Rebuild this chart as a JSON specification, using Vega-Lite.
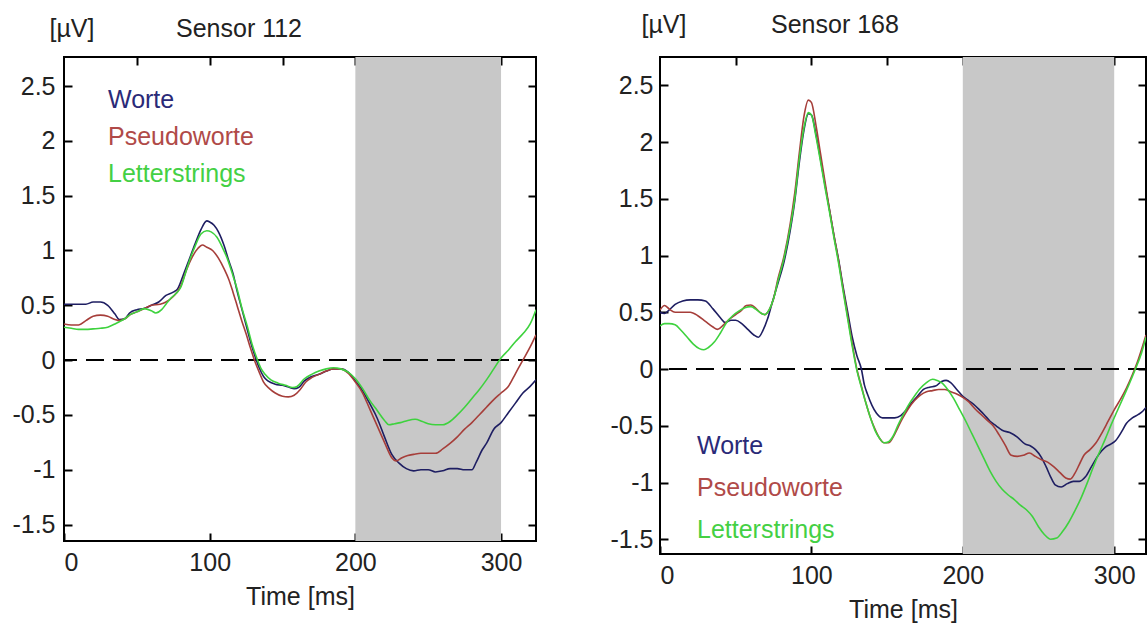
{
"$schema": "https://vega.github.io/schema/vega-lite/v6.json",
"background": "white",
"padding": {"left": 10, "top": 11, "right": 0, "bottom": 0},
"datasets": {
"s112": [
{"c":"Worte","t":0,"v":0.51},{"c":"Worte","t":5,"v":0.51},{"c":"Worte","t":10,"v":0.51},{"c":"Worte","t":15,"v":0.51},{"c":"Worte","t":20,"v":0.53},{"c":"Worte","t":25,"v":0.53},{"c":"Worte","t":30,"v":0.5},{"c":"Worte","t":35,"v":0.42},{"c":"Worte","t":38,"v":0.37},{"c":"Worte","t":42,"v":0.38},{"c":"Worte","t":45,"v":0.43},{"c":"Worte","t":50,"v":0.46},{"c":"Worte","t":55,"v":0.47},{"c":"Worte","t":60,"v":0.5},{"c":"Worte","t":65,"v":0.53},{"c":"Worte","t":70,"v":0.59},{"c":"Worte","t":75,"v":0.62},{"c":"Worte","t":78,"v":0.65},{"c":"Worte","t":82,"v":0.78},{"c":"Worte","t":86,"v":0.92},{"c":"Worte","t":90,"v":1.06},{"c":"Worte","t":94,"v":1.19},{"c":"Worte","t":98,"v":1.27},{"c":"Worte","t":100,"v":1.26},{"c":"Worte","t":103,"v":1.23},{"c":"Worte","t":106,"v":1.17},{"c":"Worte","t":110,"v":1.04},{"c":"Worte","t":113,"v":0.91},{"c":"Worte","t":116,"v":0.79},{"c":"Worte","t":119,"v":0.62},{"c":"Worte","t":122,"v":0.47},{"c":"Worte","t":125,"v":0.32},{"c":"Worte","t":128,"v":0.17},{"c":"Worte","t":131,"v":0.04},{"c":"Worte","t":134,"v":-0.07},{"c":"Worte","t":137,"v":-0.15},{"c":"Worte","t":140,"v":-0.19},{"c":"Worte","t":145,"v":-0.22},{"c":"Worte","t":150,"v":-0.23},{"c":"Worte","t":155,"v":-0.25},{"c":"Worte","t":158,"v":-0.26},{"c":"Worte","t":161,"v":-0.25},{"c":"Worte","t":165,"v":-0.19},{"c":"Worte","t":170,"v":-0.15},{"c":"Worte","t":175,"v":-0.13},{"c":"Worte","t":180,"v":-0.1},{"c":"Worte","t":185,"v":-0.08},{"c":"Worte","t":190,"v":-0.08},{"c":"Worte","t":195,"v":-0.11},{"c":"Worte","t":200,"v":-0.19},{"c":"Worte","t":205,"v":-0.28},{"c":"Worte","t":210,"v":-0.4},{"c":"Worte","t":215,"v":-0.53},{"c":"Worte","t":220,"v":-0.7},{"c":"Worte","t":225,"v":-0.86},{"c":"Worte","t":230,"v":-0.94},{"c":"Worte","t":235,"v":-0.99},{"c":"Worte","t":240,"v":-1.01},{"c":"Worte","t":245,"v":-1.0},{"c":"Worte","t":250,"v":-1.0},{"c":"Worte","t":255,"v":-1.02},{"c":"Worte","t":260,"v":-1.01},{"c":"Worte","t":265,"v":-0.99},{"c":"Worte","t":270,"v":-0.99},{"c":"Worte","t":275,"v":-1.0},{"c":"Worte","t":280,"v":-1.0},{"c":"Worte","t":283,"v":-0.93},{"c":"Worte","t":287,"v":-0.82},{"c":"Worte","t":290,"v":-0.76},{"c":"Worte","t":295,"v":-0.63},{"c":"Worte","t":300,"v":-0.57},{"c":"Worte","t":305,"v":-0.48},{"c":"Worte","t":310,"v":-0.39},{"c":"Worte","t":315,"v":-0.3},{"c":"Worte","t":320,"v":-0.24},{"c":"Worte","t":324,"v":-0.18},
{"c":"Pseudoworte","t":0,"v":0.33},{"c":"Pseudoworte","t":5,"v":0.32},{"c":"Pseudoworte","t":10,"v":0.32},{"c":"Pseudoworte","t":15,"v":0.36},{"c":"Pseudoworte","t":20,"v":0.4},{"c":"Pseudoworte","t":25,"v":0.41},{"c":"Pseudoworte","t":30,"v":0.4},{"c":"Pseudoworte","t":35,"v":0.37},{"c":"Pseudoworte","t":38,"v":0.36},{"c":"Pseudoworte","t":42,"v":0.38},{"c":"Pseudoworte","t":46,"v":0.42},{"c":"Pseudoworte","t":50,"v":0.44},{"c":"Pseudoworte","t":55,"v":0.47},{"c":"Pseudoworte","t":60,"v":0.5},{"c":"Pseudoworte","t":66,"v":0.51},{"c":"Pseudoworte","t":70,"v":0.53},{"c":"Pseudoworte","t":75,"v":0.58},{"c":"Pseudoworte","t":80,"v":0.67},{"c":"Pseudoworte","t":84,"v":0.82},{"c":"Pseudoworte","t":88,"v":0.94},{"c":"Pseudoworte","t":92,"v":1.02},{"c":"Pseudoworte","t":95,"v":1.05},{"c":"Pseudoworte","t":98,"v":1.03},{"c":"Pseudoworte","t":102,"v":1.0},{"c":"Pseudoworte","t":106,"v":0.93},{"c":"Pseudoworte","t":110,"v":0.83},{"c":"Pseudoworte","t":113,"v":0.74},{"c":"Pseudoworte","t":116,"v":0.62},{"c":"Pseudoworte","t":119,"v":0.49},{"c":"Pseudoworte","t":122,"v":0.36},{"c":"Pseudoworte","t":125,"v":0.24},{"c":"Pseudoworte","t":128,"v":0.11},{"c":"Pseudoworte","t":131,"v":-0.01},{"c":"Pseudoworte","t":134,"v":-0.11},{"c":"Pseudoworte","t":137,"v":-0.2},{"c":"Pseudoworte","t":141,"v":-0.26},{"c":"Pseudoworte","t":145,"v":-0.3},{"c":"Pseudoworte","t":150,"v":-0.33},{"c":"Pseudoworte","t":154,"v":-0.335},{"c":"Pseudoworte","t":158,"v":-0.32},{"c":"Pseudoworte","t":162,"v":-0.27},{"c":"Pseudoworte","t":166,"v":-0.2},{"c":"Pseudoworte","t":170,"v":-0.16},{"c":"Pseudoworte","t":175,"v":-0.13},{"c":"Pseudoworte","t":180,"v":-0.1},{"c":"Pseudoworte","t":185,"v":-0.08},{"c":"Pseudoworte","t":190,"v":-0.08},{"c":"Pseudoworte","t":195,"v":-0.12},{"c":"Pseudoworte","t":200,"v":-0.2},{"c":"Pseudoworte","t":205,"v":-0.3},{"c":"Pseudoworte","t":210,"v":-0.45},{"c":"Pseudoworte","t":215,"v":-0.6},{"c":"Pseudoworte","t":220,"v":-0.75},{"c":"Pseudoworte","t":225,"v":-0.89},{"c":"Pseudoworte","t":228,"v":-0.92},{"c":"Pseudoworte","t":232,"v":-0.89},{"c":"Pseudoworte","t":236,"v":-0.87},{"c":"Pseudoworte","t":240,"v":-0.86},{"c":"Pseudoworte","t":245,"v":-0.85},{"c":"Pseudoworte","t":250,"v":-0.85},{"c":"Pseudoworte","t":255,"v":-0.85},{"c":"Pseudoworte","t":260,"v":-0.81},{"c":"Pseudoworte","t":265,"v":-0.76},{"c":"Pseudoworte","t":270,"v":-0.7},{"c":"Pseudoworte","t":275,"v":-0.63},{"c":"Pseudoworte","t":280,"v":-0.57},{"c":"Pseudoworte","t":285,"v":-0.5},{"c":"Pseudoworte","t":290,"v":-0.43},{"c":"Pseudoworte","t":295,"v":-0.36},{"c":"Pseudoworte","t":300,"v":-0.3},{"c":"Pseudoworte","t":305,"v":-0.24},{"c":"Pseudoworte","t":310,"v":-0.12},{"c":"Pseudoworte","t":315,"v":0.0},{"c":"Pseudoworte","t":320,"v":0.12},{"c":"Pseudoworte","t":324,"v":0.23},
{"c":"Letterstrings","t":0,"v":0.3},{"c":"Letterstrings","t":5,"v":0.29},{"c":"Letterstrings","t":10,"v":0.28},{"c":"Letterstrings","t":15,"v":0.28},{"c":"Letterstrings","t":20,"v":0.285},{"c":"Letterstrings","t":25,"v":0.29},{"c":"Letterstrings","t":30,"v":0.3},{"c":"Letterstrings","t":35,"v":0.33},{"c":"Letterstrings","t":38,"v":0.35},{"c":"Letterstrings","t":42,"v":0.38},{"c":"Letterstrings","t":46,"v":0.42},{"c":"Letterstrings","t":50,"v":0.44},{"c":"Letterstrings","t":55,"v":0.47},{"c":"Letterstrings","t":60,"v":0.45},{"c":"Letterstrings","t":63,"v":0.43},{"c":"Letterstrings","t":67,"v":0.46},{"c":"Letterstrings","t":70,"v":0.51},{"c":"Letterstrings","t":73,"v":0.56},{"c":"Letterstrings","t":77,"v":0.61},{"c":"Letterstrings","t":80,"v":0.66},{"c":"Letterstrings","t":84,"v":0.82},{"c":"Letterstrings","t":87,"v":0.94},{"c":"Letterstrings","t":90,"v":1.04},{"c":"Letterstrings","t":94,"v":1.15},{"c":"Letterstrings","t":98,"v":1.18},{"c":"Letterstrings","t":101,"v":1.17},{"c":"Letterstrings","t":105,"v":1.12},{"c":"Letterstrings","t":109,"v":1.02},{"c":"Letterstrings","t":112,"v":0.93},{"c":"Letterstrings","t":116,"v":0.77},{"c":"Letterstrings","t":119,"v":0.64},{"c":"Letterstrings","t":122,"v":0.48},{"c":"Letterstrings","t":126,"v":0.3},{"c":"Letterstrings","t":129,"v":0.15},{"c":"Letterstrings","t":132,"v":0.03},{"c":"Letterstrings","t":135,"v":-0.07},{"c":"Letterstrings","t":138,"v":-0.13},{"c":"Letterstrings","t":142,"v":-0.18},{"c":"Letterstrings","t":147,"v":-0.21},{"c":"Letterstrings","t":152,"v":-0.23},{"c":"Letterstrings","t":157,"v":-0.25},{"c":"Letterstrings","t":160,"v":-0.24},{"c":"Letterstrings","t":165,"v":-0.17},{"c":"Letterstrings","t":170,"v":-0.13},{"c":"Letterstrings","t":175,"v":-0.1},{"c":"Letterstrings","t":180,"v":-0.08},{"c":"Letterstrings","t":185,"v":-0.07},{"c":"Letterstrings","t":190,"v":-0.08},{"c":"Letterstrings","t":195,"v":-0.11},{"c":"Letterstrings","t":200,"v":-0.17},{"c":"Letterstrings","t":205,"v":-0.26},{"c":"Letterstrings","t":210,"v":-0.37},{"c":"Letterstrings","t":215,"v":-0.46},{"c":"Letterstrings","t":220,"v":-0.55},{"c":"Letterstrings","t":223,"v":-0.59},{"c":"Letterstrings","t":227,"v":-0.58},{"c":"Letterstrings","t":231,"v":-0.57},{"c":"Letterstrings","t":236,"v":-0.55},{"c":"Letterstrings","t":241,"v":-0.54},{"c":"Letterstrings","t":246,"v":-0.56},{"c":"Letterstrings","t":250,"v":-0.58},{"c":"Letterstrings","t":255,"v":-0.59},{"c":"Letterstrings","t":260,"v":-0.59},{"c":"Letterstrings","t":265,"v":-0.56},{"c":"Letterstrings","t":270,"v":-0.5},{"c":"Letterstrings","t":275,"v":-0.43},{"c":"Letterstrings","t":280,"v":-0.35},{"c":"Letterstrings","t":285,"v":-0.27},{"c":"Letterstrings","t":290,"v":-0.18},{"c":"Letterstrings","t":295,"v":-0.08},{"c":"Letterstrings","t":300,"v":0.02},{"c":"Letterstrings","t":305,"v":0.09},{"c":"Letterstrings","t":310,"v":0.17},{"c":"Letterstrings","t":315,"v":0.24},{"c":"Letterstrings","t":320,"v":0.33},{"c":"Letterstrings","t":324,"v":0.46}
],
"s168": [
{"c":"Worte","t":0,"v":0.5},{"c":"Worte","t":3,"v":0.49},{"c":"Worte","t":6,"v":0.52},{"c":"Worte","t":10,"v":0.57},{"c":"Worte","t":15,"v":0.6},{"c":"Worte","t":20,"v":0.61},{"c":"Worte","t":25,"v":0.61},{"c":"Worte","t":30,"v":0.6},{"c":"Worte","t":35,"v":0.53},{"c":"Worte","t":40,"v":0.45},{"c":"Worte","t":43,"v":0.41},{"c":"Worte","t":47,"v":0.43},{"c":"Worte","t":50,"v":0.43},{"c":"Worte","t":54,"v":0.4},{"c":"Worte","t":58,"v":0.35},{"c":"Worte","t":62,"v":0.3},{"c":"Worte","t":65,"v":0.28},{"c":"Worte","t":68,"v":0.34},{"c":"Worte","t":71,"v":0.44},{"c":"Worte","t":74,"v":0.58},{"c":"Worte","t":78,"v":0.76},{"c":"Worte","t":82,"v":0.95},{"c":"Worte","t":86,"v":1.22},{"c":"Worte","t":89,"v":1.48},{"c":"Worte","t":92,"v":1.82},{"c":"Worte","t":95,"v":2.1},{"c":"Worte","t":98,"v":2.25},{"c":"Worte","t":100,"v":2.24},{"c":"Worte","t":103,"v":2.07},{"c":"Worte","t":106,"v":1.85},{"c":"Worte","t":109,"v":1.62},{"c":"Worte","t":112,"v":1.4},{"c":"Worte","t":115,"v":1.17},{"c":"Worte","t":118,"v":0.96},{"c":"Worte","t":121,"v":0.72},{"c":"Worte","t":124,"v":0.5},{"c":"Worte","t":127,"v":0.28},{"c":"Worte","t":130,"v":0.12},{"c":"Worte","t":133,"v":0.0},{"c":"Worte","t":135,"v":-0.14},{"c":"Worte","t":137,"v":-0.22},{"c":"Worte","t":140,"v":-0.32},{"c":"Worte","t":143,"v":-0.39},{"c":"Worte","t":147,"v":-0.43},{"c":"Worte","t":151,"v":-0.43},{"c":"Worte","t":155,"v":-0.43},{"c":"Worte","t":159,"v":-0.41},{"c":"Worte","t":162,"v":-0.37},{"c":"Worte","t":166,"v":-0.3},{"c":"Worte","t":170,"v":-0.24},{"c":"Worte","t":174,"v":-0.18},{"c":"Worte","t":178,"v":-0.16},{"c":"Worte","t":182,"v":-0.15},{"c":"Worte","t":186,"v":-0.11},{"c":"Worte","t":189,"v":-0.1},{"c":"Worte","t":192,"v":-0.12},{"c":"Worte","t":196,"v":-0.18},{"c":"Worte","t":200,"v":-0.24},{"c":"Worte","t":204,"v":-0.28},{"c":"Worte","t":207,"v":-0.31},{"c":"Worte","t":211,"v":-0.36},{"c":"Worte","t":214,"v":-0.4},{"c":"Worte","t":218,"v":-0.46},{"c":"Worte","t":222,"v":-0.5},{"c":"Worte","t":226,"v":-0.54},{"c":"Worte","t":231,"v":-0.56},{"c":"Worte","t":236,"v":-0.6},{"c":"Worte","t":241,"v":-0.66},{"c":"Worte","t":245,"v":-0.68},{"c":"Worte","t":248,"v":-0.71},{"c":"Worte","t":252,"v":-0.78},{"c":"Worte","t":255,"v":-0.86},{"c":"Worte","t":258,"v":-0.95},{"c":"Worte","t":261,"v":-1.02},{"c":"Worte","t":265,"v":-1.04},{"c":"Worte","t":269,"v":-1.01},{"c":"Worte","t":273,"v":-0.99},{"c":"Worte","t":277,"v":-0.99},{"c":"Worte","t":281,"v":-0.95},{"c":"Worte","t":285,"v":-0.86},{"c":"Worte","t":290,"v":-0.75},{"c":"Worte","t":294,"v":-0.69},{"c":"Worte","t":298,"v":-0.66},{"c":"Worte","t":301,"v":-0.63},{"c":"Worte","t":305,"v":-0.55},{"c":"Worte","t":308,"v":-0.48},{"c":"Worte","t":312,"v":-0.43},{"c":"Worte","t":316,"v":-0.4},{"c":"Worte","t":319,"v":-0.37},{"c":"Worte","t":321,"v":-0.34},
{"c":"Pseudoworte","t":0,"v":0.52},{"c":"Pseudoworte","t":3,"v":0.56},{"c":"Pseudoworte","t":6,"v":0.53},{"c":"Pseudoworte","t":10,"v":0.5},{"c":"Pseudoworte","t":15,"v":0.5},{"c":"Pseudoworte","t":20,"v":0.5},{"c":"Pseudoworte","t":25,"v":0.47},{"c":"Pseudoworte","t":30,"v":0.42},{"c":"Pseudoworte","t":35,"v":0.37},{"c":"Pseudoworte","t":38,"v":0.35},{"c":"Pseudoworte","t":42,"v":0.39},{"c":"Pseudoworte","t":45,"v":0.43},{"c":"Pseudoworte","t":50,"v":0.48},{"c":"Pseudoworte","t":54,"v":0.52},{"c":"Pseudoworte","t":57,"v":0.56},{"c":"Pseudoworte","t":60,"v":0.565},{"c":"Pseudoworte","t":63,"v":0.54},{"c":"Pseudoworte","t":66,"v":0.5},{"c":"Pseudoworte","t":69,"v":0.48},{"c":"Pseudoworte","t":72,"v":0.52},{"c":"Pseudoworte","t":75,"v":0.62},{"c":"Pseudoworte","t":78,"v":0.8},{"c":"Pseudoworte","t":82,"v":1.0},{"c":"Pseudoworte","t":86,"v":1.28},{"c":"Pseudoworte","t":89,"v":1.55},{"c":"Pseudoworte","t":92,"v":1.9},{"c":"Pseudoworte","t":95,"v":2.22},{"c":"Pseudoworte","t":98,"v":2.37},{"c":"Pseudoworte","t":100,"v":2.35},{"c":"Pseudoworte","t":103,"v":2.15},{"c":"Pseudoworte","t":106,"v":1.9},{"c":"Pseudoworte","t":109,"v":1.65},{"c":"Pseudoworte","t":112,"v":1.4},{"c":"Pseudoworte","t":115,"v":1.17},{"c":"Pseudoworte","t":118,"v":0.95},{"c":"Pseudoworte","t":121,"v":0.7},{"c":"Pseudoworte","t":124,"v":0.46},{"c":"Pseudoworte","t":127,"v":0.22},{"c":"Pseudoworte","t":130,"v":0.0},{"c":"Pseudoworte","t":133,"v":-0.15},{"c":"Pseudoworte","t":136,"v":-0.3},{"c":"Pseudoworte","t":139,"v":-0.43},{"c":"Pseudoworte","t":142,"v":-0.53},{"c":"Pseudoworte","t":145,"v":-0.61},{"c":"Pseudoworte","t":148,"v":-0.65},{"c":"Pseudoworte","t":151,"v":-0.65},{"c":"Pseudoworte","t":154,"v":-0.6},{"c":"Pseudoworte","t":157,"v":-0.52},{"c":"Pseudoworte","t":160,"v":-0.44},{"c":"Pseudoworte","t":164,"v":-0.35},{"c":"Pseudoworte","t":168,"v":-0.28},{"c":"Pseudoworte","t":172,"v":-0.23},{"c":"Pseudoworte","t":176,"v":-0.2},{"c":"Pseudoworte","t":180,"v":-0.19},{"c":"Pseudoworte","t":184,"v":-0.18},{"c":"Pseudoworte","t":188,"v":-0.18},{"c":"Pseudoworte","t":192,"v":-0.2},{"c":"Pseudoworte","t":196,"v":-0.22},{"c":"Pseudoworte","t":200,"v":-0.25},{"c":"Pseudoworte","t":204,"v":-0.29},{"c":"Pseudoworte","t":208,"v":-0.35},{"c":"Pseudoworte","t":212,"v":-0.4},{"c":"Pseudoworte","t":216,"v":-0.45},{"c":"Pseudoworte","t":220,"v":-0.5},{"c":"Pseudoworte","t":224,"v":-0.58},{"c":"Pseudoworte","t":228,"v":-0.67},{"c":"Pseudoworte","t":232,"v":-0.76},{"c":"Pseudoworte","t":236,"v":-0.77},{"c":"Pseudoworte","t":240,"v":-0.76},{"c":"Pseudoworte","t":244,"v":-0.74},{"c":"Pseudoworte","t":248,"v":-0.77},{"c":"Pseudoworte","t":252,"v":-0.8},{"c":"Pseudoworte","t":256,"v":-0.82},{"c":"Pseudoworte","t":260,"v":-0.86},{"c":"Pseudoworte","t":264,"v":-0.91},{"c":"Pseudoworte","t":268,"v":-0.96},{"c":"Pseudoworte","t":271,"v":-0.97},{"c":"Pseudoworte","t":274,"v":-0.92},{"c":"Pseudoworte","t":277,"v":-0.84},{"c":"Pseudoworte","t":280,"v":-0.76},{"c":"Pseudoworte","t":284,"v":-0.71},{"c":"Pseudoworte","t":288,"v":-0.65},{"c":"Pseudoworte","t":292,"v":-0.56},{"c":"Pseudoworte","t":296,"v":-0.46},{"c":"Pseudoworte","t":300,"v":-0.36},{"c":"Pseudoworte","t":304,"v":-0.27},{"c":"Pseudoworte","t":308,"v":-0.17},{"c":"Pseudoworte","t":312,"v":-0.05},{"c":"Pseudoworte","t":315,"v":0.05},{"c":"Pseudoworte","t":318,"v":0.17},{"c":"Pseudoworte","t":321,"v":0.3},
{"c":"Letterstrings","t":0,"v":0.38},{"c":"Letterstrings","t":3,"v":0.4},{"c":"Letterstrings","t":6,"v":0.4},{"c":"Letterstrings","t":10,"v":0.39},{"c":"Letterstrings","t":14,"v":0.34},{"c":"Letterstrings","t":18,"v":0.28},{"c":"Letterstrings","t":22,"v":0.22},{"c":"Letterstrings","t":26,"v":0.18},{"c":"Letterstrings","t":29,"v":0.17},{"c":"Letterstrings","t":32,"v":0.19},{"c":"Letterstrings","t":36,"v":0.24},{"c":"Letterstrings","t":40,"v":0.32},{"c":"Letterstrings","t":44,"v":0.41},{"c":"Letterstrings","t":48,"v":0.47},{"c":"Letterstrings","t":52,"v":0.51},{"c":"Letterstrings","t":56,"v":0.54},{"c":"Letterstrings","t":60,"v":0.55},{"c":"Letterstrings","t":63,"v":0.53},{"c":"Letterstrings","t":66,"v":0.5},{"c":"Letterstrings","t":69,"v":0.48},{"c":"Letterstrings","t":72,"v":0.52},{"c":"Letterstrings","t":75,"v":0.62},{"c":"Letterstrings","t":78,"v":0.78},{"c":"Letterstrings","t":82,"v":0.98},{"c":"Letterstrings","t":86,"v":1.25},{"c":"Letterstrings","t":89,"v":1.5},{"c":"Letterstrings","t":92,"v":1.85},{"c":"Letterstrings","t":95,"v":2.12},{"c":"Letterstrings","t":98,"v":2.26},{"c":"Letterstrings","t":100,"v":2.24},{"c":"Letterstrings","t":103,"v":2.05},{"c":"Letterstrings","t":106,"v":1.83},{"c":"Letterstrings","t":109,"v":1.6},{"c":"Letterstrings","t":112,"v":1.38},{"c":"Letterstrings","t":115,"v":1.15},{"c":"Letterstrings","t":118,"v":0.93},{"c":"Letterstrings","t":121,"v":0.68},{"c":"Letterstrings","t":124,"v":0.44},{"c":"Letterstrings","t":127,"v":0.2},{"c":"Letterstrings","t":130,"v":-0.01},{"c":"Letterstrings","t":133,"v":-0.16},{"c":"Letterstrings","t":136,"v":-0.3},{"c":"Letterstrings","t":139,"v":-0.43},{"c":"Letterstrings","t":142,"v":-0.54},{"c":"Letterstrings","t":145,"v":-0.61},{"c":"Letterstrings","t":148,"v":-0.65},{"c":"Letterstrings","t":151,"v":-0.64},{"c":"Letterstrings","t":154,"v":-0.59},{"c":"Letterstrings","t":157,"v":-0.5},{"c":"Letterstrings","t":160,"v":-0.42},{"c":"Letterstrings","t":164,"v":-0.32},{"c":"Letterstrings","t":168,"v":-0.24},{"c":"Letterstrings","t":172,"v":-0.17},{"c":"Letterstrings","t":176,"v":-0.12},{"c":"Letterstrings","t":180,"v":-0.09},{"c":"Letterstrings","t":183,"v":-0.1},{"c":"Letterstrings","t":186,"v":-0.12},{"c":"Letterstrings","t":190,"v":-0.18},{"c":"Letterstrings","t":194,"v":-0.26},{"c":"Letterstrings","t":198,"v":-0.36},{"c":"Letterstrings","t":202,"v":-0.46},{"c":"Letterstrings","t":206,"v":-0.57},{"c":"Letterstrings","t":210,"v":-0.68},{"c":"Letterstrings","t":214,"v":-0.79},{"c":"Letterstrings","t":218,"v":-0.9},{"c":"Letterstrings","t":222,"v":-0.99},{"c":"Letterstrings","t":226,"v":-1.06},{"c":"Letterstrings","t":230,"v":-1.11},{"c":"Letterstrings","t":234,"v":-1.15},{"c":"Letterstrings","t":238,"v":-1.2},{"c":"Letterstrings","t":242,"v":-1.24},{"c":"Letterstrings","t":246,"v":-1.3},{"c":"Letterstrings","t":250,"v":-1.39},{"c":"Letterstrings","t":254,"v":-1.46},{"c":"Letterstrings","t":258,"v":-1.5},{"c":"Letterstrings","t":262,"v":-1.49},{"c":"Letterstrings","t":266,"v":-1.43},{"c":"Letterstrings","t":270,"v":-1.35},{"c":"Letterstrings","t":274,"v":-1.25},{"c":"Letterstrings","t":278,"v":-1.14},{"c":"Letterstrings","t":282,"v":-1.01},{"c":"Letterstrings","t":286,"v":-0.87},{"c":"Letterstrings","t":290,"v":-0.74},{"c":"Letterstrings","t":294,"v":-0.62},{"c":"Letterstrings","t":298,"v":-0.49},{"c":"Letterstrings","t":302,"v":-0.37},{"c":"Letterstrings","t":306,"v":-0.25},{"c":"Letterstrings","t":310,"v":-0.13},{"c":"Letterstrings","t":314,"v":0.0},{"c":"Letterstrings","t":318,"v":0.14},{"c":"Letterstrings","t":321,"v":0.28}
]
},
"hconcat": [
{
"width": 472, "height": 484,
"title": {"text": "Sensor 112", "anchor": "start", "frame": "group", "dx": 112, "offset": -38, "baseline": "middle"},
"layer": [
{"data": {"values": [{}]}, "mark": {"type": "rect", "color": "#c8c8c8"},
 "encoding": {
  "x": {"datum": 200, "type": "quantitative", "scale": {"domain": [0, 324], "nice": false, "zero": false},
        "axis": {"orient": "top", "values": [50, 100, 150, 200, 250, 300], "labels": false, "title": null, "ticks": true, "tickSize": 8, "offset": -8}},
  "x2": {"datum": 300}}},
{"data": {"values": [{}]}, "mark": {"type": "rule", "color": "#000", "strokeWidth": 2, "strokeDash": [18, 9]},
 "encoding": {
  "y": {"datum": 0, "type": "quantitative", "scale": {"domain": [-1.65, 2.765], "nice": false, "zero": false},
        "axis": {"orient": "right", "values": [-1.5, -1, -0.5, 0, 0.5, 1, 1.5, 2, 2.5], "labels": false, "title": null, "ticks": true, "tickSize": 8, "offset": -8}}}},
{"data": {"name": "s112"}, "mark": {"type": "line", "strokeWidth": 1.6, "interpolate": "monotone", "clip": true},
 "encoding": {
  "x": {"field": "t", "type": "quantitative", "scale": {"domain": [0, 324], "nice": false, "zero": false},
        "axis": {"orient": "bottom", "values": [0, 100, 200, 300], "format": "d", "title": "Time [ms]", "ticks": true, "tickSize": 8, "offset": -8, "labelPadding": 9, "titlePadding": 9}},
  "y": {"field": "v", "type": "quantitative", "scale": {"domain": [-1.65, 2.765], "nice": false, "zero": false},
        "axis": {"orient": "left", "values": [-1.5, -1, -0.5, 0, 0.5, 1, 1.5, 2, 2.5], "ticks": true, "tickSize": 8, "offset": -8, "labelPadding": 9,
                 "labelExpr": "datum.value < 0 ? '-' + format(-datum.value, '~g') : format(datum.value, '~g')",
                 "title": "[µV]", "titleAngle": 0, "titleAlign": "left", "titleBaseline": "middle", "titleX": -23, "titleY": -29}},
  "color": {"field": "c", "type": "nominal", "sort": ["Worte", "Pseudoworte", "Letterstrings"],
            "scale": {"domain": ["Worte", "Pseudoworte", "Letterstrings"], "range": ["#1e1e62", "#a63e3a", "#3ed23e"]},
            "legend": {"orient": "none", "legendX": 19, "legendY": 30, "title": null, "rowPadding": 11, "symbolSize": 0, "symbolOpacity": 0, "symbolStrokeWidth": 0, "labelOffset": 0,
                       "labelFontSize": 25, "labelLimit": 400,
                       "encode": {"labels": {"update": {"fill": {"signal": "datum.value === 'Worte' ? '#2a2a78' : datum.value === 'Pseudoworte' ? '#b04a48' : '#44d044'"}}}}}}}}
],
"resolve": {"axis": {"x": "independent", "y": "independent"}}
},
{
"width": 486, "height": 497,
"title": {"text": "Sensor 168", "anchor": "start", "frame": "group", "dx": 111, "offset": -38, "baseline": "middle"},
"layer": [
{"data": {"values": [{}]}, "mark": {"type": "rect", "color": "#c8c8c8"},
 "encoding": {
  "x": {"datum": 200, "type": "quantitative", "scale": {"domain": [0, 321], "nice": false, "zero": false},
        "axis": {"orient": "top", "values": [50, 100, 150, 200, 250, 300], "labels": false, "title": null, "ticks": true, "tickSize": 8, "offset": -8}},
  "x2": {"datum": 300}}},
{"data": {"values": [{}]}, "mark": {"type": "rule", "color": "#000", "strokeWidth": 2, "strokeDash": [18, 9]},
 "encoding": {
  "y": {"datum": 0, "type": "quantitative", "scale": {"domain": [-1.63, 2.75], "nice": false, "zero": false},
        "axis": {"orient": "right", "values": [-1.5, -1, -0.5, 0, 0.5, 1, 1.5, 2, 2.5], "labels": false, "title": null, "ticks": true, "tickSize": 8, "offset": -8}}}},
{"data": {"name": "s168"}, "mark": {"type": "line", "strokeWidth": 1.6, "interpolate": "monotone", "clip": true},
 "encoding": {
  "x": {"field": "t", "type": "quantitative", "scale": {"domain": [0, 321], "nice": false, "zero": false},
        "axis": {"orient": "bottom", "values": [0, 100, 200, 300], "format": "d", "title": "Time [ms]", "ticks": true, "tickSize": 8, "offset": -8, "labelPadding": 9, "titlePadding": 9}},
  "y": {"field": "v", "type": "quantitative", "scale": {"domain": [-1.63, 2.75], "nice": false, "zero": false},
        "axis": {"orient": "left", "values": [-1.5, -1, -0.5, 0, 0.5, 1, 1.5, 2, 2.5], "ticks": true, "tickSize": 8, "offset": -8, "labelPadding": 7,
                 "labelExpr": "datum.value < 0 ? '-' + format(-datum.value, '~g') : format(datum.value, '~g')",
                 "title": "[µV]", "titleAngle": 0, "titleAlign": "left", "titleBaseline": "middle", "titleX": -27, "titleY": -33}},
  "color": {"field": "c", "type": "nominal", "sort": ["Worte", "Pseudoworte", "Letterstrings"],
            "scale": {"domain": ["Worte", "Pseudoworte", "Letterstrings"], "range": ["#1e1e62", "#a63e3a", "#3ed23e"]},
            "legend": {"orient": "none", "legendX": 12, "legendY": 376, "title": null, "rowPadding": 16, "symbolSize": 0, "symbolOpacity": 0, "symbolStrokeWidth": 0, "labelOffset": 0,
                       "labelFontSize": 25, "labelLimit": 400,
                       "encode": {"labels": {"update": {"fill": {"signal": "datum.value === 'Worte' ? '#2a2a78' : datum.value === 'Pseudoworte' ? '#b04a48' : '#44d044'"}}}}}}}}
],
"resolve": {"axis": {"x": "independent", "y": "independent"}}
}
],
"spacing": 70,
"resolve": {"scale": {"color": "independent"}, "legend": {"color": "independent"}},
"config": {
 "font": "Liberation Sans",
 "view": {"stroke": "#000", "strokeWidth": 2},
 "axis": {"grid": false, "domain": false, "ticks": true, "tickColor": "#000", "tickOpacity": 1, "tickWidth": 2, "zindex": 1, "labelFont": "Liberation Sans", "labelFontSize": 25, "labelColor": "#222",
          "titleFont": "Liberation Sans", "titleFontSize": 25, "titleFontWeight": "normal", "titleColor": "#222"},
 "legend": {"labelFont": "Liberation Sans"},
 "title": {"font": "Liberation Sans", "fontSize": 25, "fontWeight": "normal", "color": "#222"}
}
}
